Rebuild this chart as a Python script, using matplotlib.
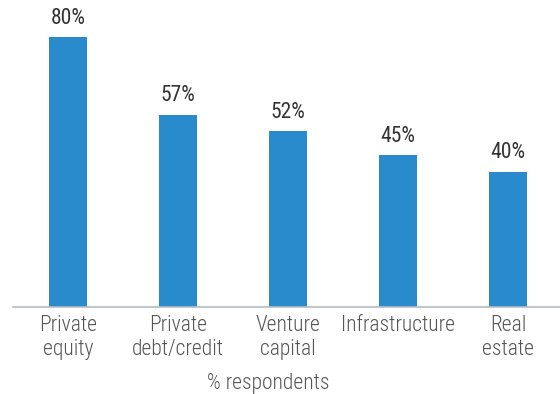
import matplotlib
matplotlib.use("Agg")
import matplotlib.pyplot as plt

# Survey results: share of respondents per asset class
categories = ["Private\nequity", "Private\ndebt/credit", "Venture\ncapital", "Infrastructure", "Real\nestate"]
values = [80, 57, 52, 45, 40]
value_labels = ["80%", "57%", "52%", "45%", "40%"]

plt.rcParams["font.family"] = ["Roboto Condensed", "DejaVu Sans"]

fig = plt.figure(figsize=(5.6, 3.94), dpi=100)
ax = fig.add_axes([13 / 560, 87.5 / 394, 550 / 560, 303 / 394])

x = range(len(categories))
bars = ax.bar(x, values, width=0.345, color="#2a8bcc", zorder=2)

for rect, lab in zip(bars, value_labels):
    ax.annotate(lab, (rect.get_x() + rect.get_width() / 2, rect.get_height()),
                xytext=(0, 6), textcoords="offset points", ha="center", va="bottom",
                fontsize=15.5, color="#333333")

ax.set_xlim(-0.5, 4.5)
ax.set_ylim(0, 90)
ax.set_xticks(list(x))
ax.set_xticklabels(categories, fontsize=15.5, color="#555555", linespacing=1.2,
                   fontweight="light")
ax.tick_params(axis="x", length=0, pad=6)
ax.set_yticks([])

for side in ["top", "right", "left"]:
    ax.spines[side].set_visible(False)
ax.spines["bottom"].set_color("#b4bcc4")
ax.spines["bottom"].set_linewidth(1.2)

fig.text(268 / 560, 5.5 / 394, "% respondents", ha="center", va="baseline",
         fontsize=15.5, color="#555555", fontweight="light")

fig.savefig("out.png", dpi=100)
